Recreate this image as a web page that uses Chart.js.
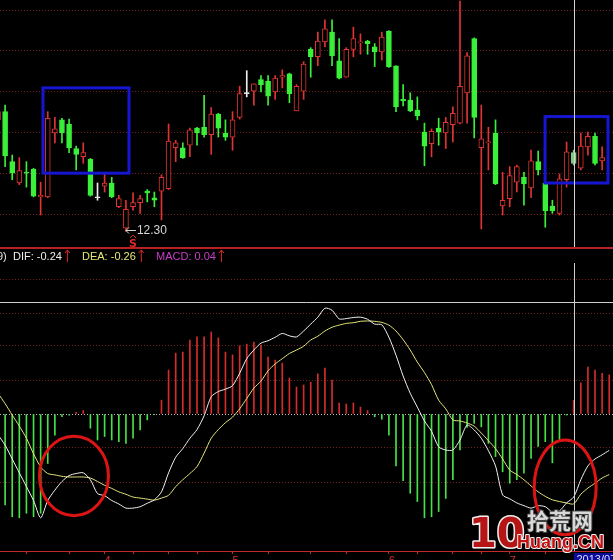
<!DOCTYPE html>
<html>
<head>
<meta charset="utf-8">
<script src="https://cdn.jsdelivr.net/npm/chart.js@4.4.1/dist/chart.umd.min.js"></script>
<style>
  html, body { margin: 0; padding: 0; background: #000; overflow: hidden; }
  #wrap { position: relative; width: 613px; height: 560px; overflow: hidden; background: #000; }
  #priceChart { position: absolute; left: 0; top: 0; }
  #macdChart { position: absolute; left: 0; top: 248px; }
</style>
</head>
<body>
<div id="wrap">
  <canvas id="priceChart" width="613" height="249"></canvas>
  <canvas id="macdChart" width="613" height="316"></canvas>
</div>
<script>
// daily candles (index = trading day)
const opens  = [13.66,13.76,13.15,12.89,13.02,13.06,12.72,12.72,13.50,13.66,13.61,13.31,13.21,13.18,12.71,12.85,12.89,12.60,12.34,12.60,
                12.65,12.79,12.71,12.79,12.82,13.32,13.32,13.35,13.56,13.57,13.48,13.73,13.50,13.45,13.69,13.98,14.01,14.15,14.13,14.00,
                14.18,14.22,13.77,14.01,14.52,14.43,14.61,14.73,14.38,14.18,14.52,14.60,14.62,14.55,14.49,14.74,14.32,13.91,13.90,13.78,
                13.51,13.37,13.56,13.50,13.60,13.62,13.99,14.65,13.32,13.38,13.50,12.61,12.70,12.90,12.96,12.83,13.15,12.89,12.61,12.52,
                12.93,13.26,13.07,13.33,13.46,13.16];
const highs  = [13.80,13.84,13.23,13.20,13.15,13.07,12.90,13.76,13.69,13.68,13.67,13.34,13.38,13.19,12.89,13.01,12.96,12.74,12.68,12.77,
                12.74,12.81,12.78,12.99,13.61,13.41,13.38,13.56,13.57,13.96,13.81,13.74,13.66,13.76,14.07,14.26,14.10,14.20,14.20,14.20,
                14.27,14.23,14.09,14.37,14.54,14.73,14.88,14.88,14.65,14.54,14.79,14.71,14.63,14.59,14.73,14.75,14.32,14.09,13.99,13.94,
                13.62,13.55,13.68,13.69,13.82,15.11,14.48,14.66,13.84,13.57,13.66,13.02,13.09,13.11,13.02,13.29,13.28,12.89,12.68,13.00,
                13.39,13.29,13.50,13.51,13.50,13.33];
const lows   = [13.62,13.09,12.93,12.87,12.84,12.72,12.50,12.71,13.38,13.38,13.26,13.05,13.13,12.73,12.68,12.78,12.71,12.59,12.30,12.56,
                12.52,12.66,12.60,12.44,12.81,13.15,13.19,13.21,13.35,13.45,13.24,13.45,13.41,13.29,13.67,13.94,13.84,14.00,13.84,13.91,
                14.05,13.87,13.77,13.91,14.18,14.32,14.55,14.32,14.16,14.18,14.43,14.46,14.46,14.31,14.39,14.30,13.76,13.83,13.76,13.66,
                13.10,13.21,13.35,13.31,13.39,13.61,13.62,13.44,12.33,13.05,12.87,12.50,12.60,12.78,12.62,12.71,12.99,12.35,12.52,12.50,
                12.84,13.11,13.05,13.23,13.11,13.05];
const closes = [13.76,13.22,13.01,13.04,13.01,12.73,12.74,13.68,13.55,13.50,13.32,13.24,13.26,12.74,12.71,12.89,12.72,12.70,12.57,12.65,
                12.70,12.77,12.68,12.96,13.40,13.38,13.20,13.54,13.50,13.48,13.73,13.56,13.45,13.66,13.98,13.98,14.10,14.09,13.95,14.17,
                14.20,13.98,14.07,14.34,14.43,14.62,14.77,14.44,14.17,14.52,14.65,14.61,14.59,14.49,14.67,14.31,13.82,13.89,13.77,13.71,
                13.34,13.52,13.51,13.63,13.74,14.07,14.44,13.69,13.43,13.39,12.88,12.68,12.98,13.09,12.88,13.16,13.05,12.55,12.55,12.94,
                13.27,13.13,13.34,13.46,13.13,13.20];

// MACD(12,26,9)
const dif  = [-0.06,-0.09,-0.13,-0.17,-0.21,-0.25,-0.30,-0.25,-0.22,-0.195,-0.178,-0.172,-0.17,-0.19,-0.23,-0.236,-0.25,-0.26,-0.272,-0.272,
              -0.268,-0.258,-0.248,-0.225,-0.17,-0.125,-0.10,-0.07,-0.045,-0.005,0.05,0.065,0.072,0.082,0.118,0.16,0.185,0.205,0.212,0.222,
              0.233,0.226,0.223,0.24,0.26,0.28,0.306,0.30,0.275,0.276,0.279,0.28,0.274,0.26,0.258,0.222,0.17,0.11,0.06,0.02,
              -0.02,-0.05,-0.095,-0.104,-0.104,-0.075,-0.032,-0.046,-0.07,-0.106,-0.15,-0.234,-0.245,-0.257,-0.265,-0.272,-0.265,-0.268,-0.283,-0.28,
              -0.257,-0.24,-0.19,-0.15,-0.13,-0.118,-0.105];
const dea  = [0.06,0.03,-0.003,-0.035,-0.07,-0.115,-0.153,-0.172,-0.176,-0.18,-0.182,-0.182,-0.182,-0.185,-0.195,-0.206,-0.215,-0.225,-0.232,-0.24,
              -0.243,-0.246,-0.249,-0.243,-0.235,-0.21,-0.19,-0.172,-0.152,-0.113,-0.07,-0.045,-0.025,-0.009,0.015,0.045,0.075,0.095,0.125,0.145,
              0.16,0.175,0.185,0.196,0.214,0.225,0.24,0.251,0.257,0.262,0.264,0.268,0.269,0.268,0.265,0.257,0.24,0.215,0.185,0.15,
              0.12,0.085,0.04,0.015,-0.017,-0.02,-0.026,-0.035,-0.055,-0.077,-0.10,-0.13,-0.162,-0.175,-0.19,-0.208,-0.225,-0.238,-0.248,-0.253,
              -0.257,-0.26,-0.232,-0.214,-0.20,-0.185,-0.175];
const macd = [-0.24,-0.263,-0.297,-0.30,-0.287,-0.297,-0.287,-0.143,-0.061,-0.008,-0.003,0.005,0.01,-0.041,-0.075,-0.065,-0.075,-0.08,-0.085,-0.07,
              -0.046,-0.017,-0.002,0.04,0.127,0.176,0.179,0.214,0.223,0.223,0.237,0.22,0.179,0.171,0.197,0.202,0.208,0.199,0.165,0.156,
              0.147,0.104,0.078,0.084,0.092,0.116,0.133,0.098,0.032,0.029,0.032,0.02,0.01,-0.008,-0.015,-0.061,-0.15,-0.193,-0.229,-0.253,
              -0.30,-0.297,-0.282,-0.244,-0.19,-0.104,-0.039,-0.027,-0.037,-0.085,-0.123,-0.167,-0.20,-0.19,-0.171,-0.128,-0.094,-0.08,-0.141,-0.075,
              -0.003,0.04,0.09,0.136,0.127,0.118,0.113];

// grid levels and bottom axis
const priceGrid = [15.0, 14.5, 14.0, 13.5, 13.0, 12.5];
const macdGrid = [0.39, 0.292, 0.197, 0.098, 0, -0.098, -0.197];
const axisTicks = [4, 10, 15, 19, 24, 28, 33, 38, 44, 49, 55, 59, 64, 68, 72, 77];
const monthTicks = [15, 33, 55, 72];
const monthNames = ['4', '5', '6', '7'];
const crossIdx = 81;
const crossDate = '2013/07';
const signalIdx = 19;

// visible window
const xMin = 0.281, xMax = 86.53;
const priceMin = 12.085, priceMax = 15.122;
const macdMin = -0.396, macdMax = 0.48;

const upColor = '#e03434', downColor = '#3af03a', flatColor = '#ececec';
const candleColor = i => {
    if (i === crossIdx) return '#86c886';
    if (closes[i] > opens[i]) return upColor;
    if (closes[i] < opens[i]) return downColor;
    return flatColor;
};
const gridRed = '#742020';
const axisRed = '#c42a2a';

// annotation shapes in data units
const markBoxes = [
    { from: 6.33, to: 18.43, top: 14.05, bottom: 13.01 },
    { from: 76.97, to: 85.83, top: 13.70, bottom: 12.89 }
];
const markRings = [
    { x: 10.69, y: -0.179, rx: 4.85, ry: 0.115 },
    { x: 79.8, y: -0.212, rx: 4.36, ry: 0.137 }
];
const cursorLevel = 0.324;

// thin arrow helpers
const upArrow = (ctx, x, top, bottom, color) => {
    ctx.strokeStyle = color;
    ctx.lineWidth = 1;
    ctx.beginPath();
    ctx.moveTo(x + 0.5, top); ctx.lineTo(x + 0.5, bottom);
    ctx.moveTo(x - 2, top + 3); ctx.lineTo(x + 0.5, top); ctx.lineTo(x + 3, top + 3);
    ctx.stroke();
};
const leftArrow = (ctx, x, y, len, color) => {
    ctx.strokeStyle = color;
    ctx.lineWidth = 1;
    ctx.beginPath();
    ctx.moveTo(x, y); ctx.lineTo(x + len, y);
    ctx.moveTo(x + 3, y - 3); ctx.lineTo(x, y); ctx.lineTo(x + 3, y + 3);
    ctx.stroke();
};

const priceOverlay = {
    id: 'priceOverlay',
    afterDraw(chart) {
        const { ctx, chartArea, scales: { x, y } } = chart;
        ctx.save();

        // blue selection boxes
        ctx.strokeStyle = '#1616d2';
        ctx.lineWidth = 3;
        markBoxes.forEach(b => {
            const l = x.getPixelForValue(b.from), r = x.getPixelForValue(b.to);
            const t = y.getPixelForValue(b.top), bt = y.getPixelForValue(b.bottom);
            ctx.strokeRect(l, t, r - l, bt - t);
        });

        // lowest low marker
        let lowIdx = 0;
        lows.forEach((v, i) => { if (v < lows[lowIdx]) lowIdx = i; });
        const lx = x.getPixelForValue(lowIdx), ly = Math.round(y.getPixelForValue(lows[lowIdx])) - 0.5;
        leftArrow(ctx, lx, ly, 10, '#d6d6d6');
        ctx.fillStyle = '#d6d6d6';
        ctx.font = "12px 'Liberation Sans'";
        ctx.textBaseline = 'middle';
        ctx.textAlign = 'left';
        ctx.fillText(lows[lowIdx].toFixed(2), lx + 11, ly);

        // signal marker
        const sx = x.getPixelForValue(signalIdx);
        ctx.fillStyle = '#e02828';
        ctx.font = "bold 11px 'DejaVu Sans'";
        ctx.textAlign = 'center';
        ctx.textBaseline = 'alphabetic';
        ctx.fillText('S', sx, 247);
        ctx.beginPath();
        ctx.moveTo(sx - 3, 238); ctx.lineTo(sx, 235); ctx.lineTo(sx + 3, 238);
        ctx.strokeStyle = '#e02828'; ctx.lineWidth = 1; ctx.stroke();

        // panel separator
        ctx.fillStyle = '#b82222';
        ctx.fillRect(0, chartArea.bottom - 2, chart.width, 2);

        // crosshair
        const cx = Math.round(x.getPixelForValue(crossIdx)) + 0.5;
        ctx.strokeStyle = '#d4d4d4';
        ctx.lineWidth = 1;
        ctx.beginPath(); ctx.moveTo(cx, 0); ctx.lineTo(cx, chartArea.bottom - 2); ctx.stroke();
        ctx.restore();
    }
};

const macdOverlay = {
    id: 'macdOverlay',
    afterDraw(chart) {
        const { ctx, chartArea, scales: { x, y } } = chart;
        ctx.save();

        // horizontal cursor line
        const hy = Math.round(y.getPixelForValue(cursorLevel)) + 0.5;
        ctx.strokeStyle = '#cfcfcf';
        ctx.lineWidth = 1;
        ctx.beginPath(); ctx.moveTo(0, hy); ctx.lineTo(chart.width, hy); ctx.stroke();

        // vertical crosshair
        const cx = Math.round(x.getPixelForValue(crossIdx)) + 0.5;
        ctx.beginPath(); ctx.moveTo(cx, 15); ctx.lineTo(cx, chartArea.bottom); ctx.stroke();

        // red rings
        ctx.strokeStyle = '#dc1414';
        ctx.lineWidth = 3;
        markRings.forEach(r => {
            const px = x.getPixelForValue(r.x), py = y.getPixelForValue(r.y);
            const rx = x.getPixelForValue(r.x + r.rx) - px;
            const ry = y.getPixelForValue(r.y - r.ry) - py;
            ctx.beginPath(); ctx.ellipse(px, py, rx, ry, 0, 0, Math.PI * 2); ctx.stroke();
        });

        // header readout
        ctx.font = "11px 'Liberation Sans'";
        ctx.textBaseline = 'middle';
        ctx.textAlign = 'left';
        const parts = [
            ['9)', -3, '#e8e8e8'],
            ['DIF: ' + dif[crossIdx].toFixed(2), 13, '#f0f0f0'],
            ['DEA: ' + dea[crossIdx].toFixed(2), 82, '#e8e878'],
            ['MACD: ' + macd[crossIdx].toFixed(2), 156, '#c83cc8']
        ];
        parts.forEach(([t, px, c]) => {
            ctx.fillStyle = c;
            ctx.fillText(t, px, 8.5);
            if (px > 0) upArrow(ctx, px + ctx.measureText(t).width + 5, 2, 14, '#e02828');
        });

        // date box under crosshair
        ctx.fillStyle = '#0a0a9c';
        ctx.fillRect(cx - 0.5, chartArea.bottom + 2, chart.width - cx, 12);
        ctx.fillStyle = '#dcdcff';
        ctx.font = "11px 'Liberation Sans'";
        ctx.textBaseline = 'top';
        ctx.fillText(crossDate, cx + 2, chartArea.bottom + 3);

        // site watermark
        ctx.lineJoin = 'round';
        ctx.font = "bold 40px 'DejaVu Sans'";
        ctx.textBaseline = 'alphabetic';
        ctx.strokeStyle = '#f0f0f0'; ctx.lineWidth = 3;
        ctx.strokeText('10', 469, 299);
        ctx.fillStyle = '#b51515';
        ctx.fillText('10', 469, 299);
        ctx.font = "bold 22px 'Noto Sans CJK SC'";
        ctx.strokeStyle = '#404040'; ctx.lineWidth = 2;
        ctx.strokeText('\u62fe\u8352\u7f51', 527, 281);
        ctx.fillStyle = '#d8d8d8';
        ctx.fillText('\u62fe\u8352\u7f51', 527, 281);
        ctx.font = "bold 18px 'Liberation Sans Narrow', 'Liberation Sans'";
        ctx.strokeStyle = '#f0f0f0'; ctx.lineWidth = 2;
        ctx.strokeText('Huang.CN', 517, 300);
        ctx.fillStyle = '#c41212';
        ctx.fillText('Huang.CN', 517, 300);
        ctx.restore();
    }
};

new Chart(document.getElementById('priceChart'), {
    type: 'bar',
    data: {
        datasets: [
            {
                label: 'body', order: 0, grouped: false,
                data: opens.map((o, i) => ({ x: i, y: [o, closes[i]] })),
                barThickness: 5, minBarLength: 1, borderWidth: 1, borderSkipped: false,
                borderColor: ctx => candleColor(ctx.dataIndex),
                backgroundColor: ctx => closes[ctx.dataIndex] > opens[ctx.dataIndex] ? '#000000' : candleColor(ctx.dataIndex)
            },
            {
                label: 'wick', order: 1, grouped: false,
                data: lows.map((l, i) => ({ x: i, y: [l, highs[i]] })),
                barThickness: 1, borderWidth: 0,
                backgroundColor: ctx => candleColor(ctx.dataIndex)
            }
        ]
    },
    options: {
        responsive: false, animation: false,
        layout: { padding: 0 },
        plugins: { legend: { display: false }, tooltip: { enabled: false } },
        scales: {
            x: { type: 'linear', min: xMin, max: xMax, offset: false, display: false },
            y: {
                min: priceMin, max: priceMax,
                afterFit: s => { s.width = 0; },
                afterBuildTicks: s => { s.ticks = priceGrid.map(v => ({ value: v })); },
                ticks: { display: false },
                border: { display: false, dash: [1, 2] },
                grid: { color: gridRed, drawTicks: false }
            }
        }
    },
    plugins: [priceOverlay]
});

new Chart(document.getElementById('macdChart'), {
    type: 'bar',
    data: {
        datasets: [
            {
                type: 'line', label: 'DIF', order: 0,
                data: dif.map((v, i) => ({ x: i, y: v })),
                borderColor: '#f2f2f2', borderWidth: 1, pointRadius: 0, tension: 0.25
            },
            {
                type: 'line', label: 'DEA', order: 1,
                data: dea.map((v, i) => ({ x: i, y: v })),
                borderColor: '#e6e67c', borderWidth: 1, pointRadius: 0, tension: 0.25
            },
            {
                label: 'MACD', order: 2, grouped: false,
                data: macd.map((v, i) => ({ x: i, y: v })),
                barThickness: 1, borderWidth: 0,
                backgroundColor: ctx => macd[ctx.dataIndex] >= 0 ? '#d42c2c' : '#48e048'
            }
        ]
    },
    options: {
        responsive: false, animation: false,
        layout: { padding: 0 },
        plugins: { legend: { display: false }, tooltip: { enabled: false } },
        scales: {
            x: {
                type: 'linear', min: xMin, max: xMax, offset: false,
                afterFit: s => { s.height = 13; },
                afterBuildTicks: s => { s.ticks = axisTicks.map(v => ({ value: v })); },
                grid: { drawOnChartArea: false, offset: false, color: axisRed, tickLength: 3 },
                border: { color: axisRed, width: 1 },
                ticks: {
                    autoSkip: false, maxRotation: 0, align: 'start', padding: 0,
                    color: '#d83030', font: { family: 'Liberation Sans', size: 11 },
                    callback: v => {
                        const m = monthTicks.indexOf(v);
                        return m >= 0 ? monthNames[m] : '';
                    }
                }
            },
            y: {
                min: macdMin, max: macdMax,
                afterFit: s => { s.width = 0; },
                afterBuildTicks: s => { s.ticks = macdGrid.map(v => ({ value: v })); },
                ticks: { display: false },
                border: { display: false, dash: [1, 2] },
                grid: { color: ctx => (ctx.tick && ctx.tick.value === 0) ? '#bcbcbc' : gridRed, drawTicks: false }
            }
        }
    },
    plugins: [macdOverlay]
});
</script>
</body>
</html>
